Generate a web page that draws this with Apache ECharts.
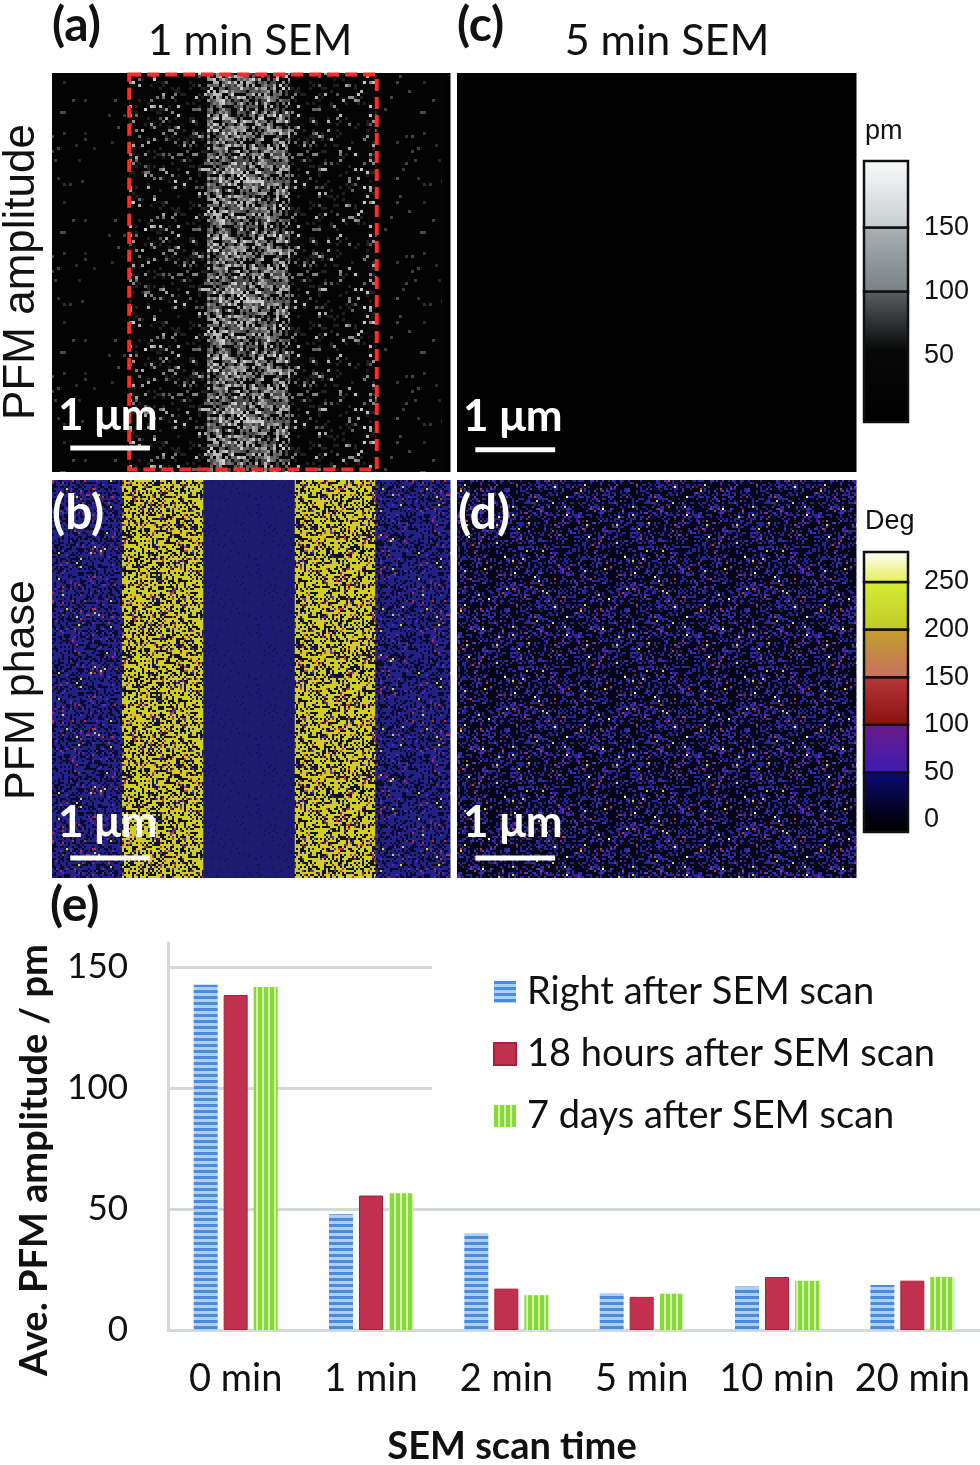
<!doctype html>
<html lang="en">
<head>
<meta charset="UTF-8"/>
<title>PFM amplitude / phase after SEM scan</title>
<script src="https://cdn.jsdelivr.net/npm/echarts@6.0.0/dist/echarts.min.js"></script>
<style>
  html, body { margin: 0; padding: 0; background: #fff; }
  #main { width: 980px; height: 1465px; }
</style>
</head>
<body>
<div id="main"></div>
<script type="text/javascript">
// ---- data (e) ----
var categories = ['0 min', '1 min', '2 min', '5 min', '10 min', '20 min'];
var seriesNames = ['Right after SEM scan', '18 hours after SEM scan', '7 days after SEM scan'];
var rightAfter = [142.7, 47.9, 40.0, 15.2, 18.0, 18.6];
var hours18 = [138.5, 55.6, 17.1, 13.7, 21.9, 20.4];
var days7 = [141.8, 56.5, 14.4, 15.0, 20.4, 21.9];
var yTicks = [0, 50, 100, 150];

// ---- maps (a)-(d), positions in um across a 5 um scan ----
var ampRegions1min = [[0, 0.97, 'ampFaint'], [0.97, 1.95, 'ampSparse'], [1.95, 2.99, 'ampBright'],
                      [2.99, 4.08, 'ampSparse'], [4.08, 4.9, 'ampFaint'], [4.9, 5, 'ampDark']];
var ampRegions5min = [[0, 5, 'ampDark']];
var phaseRegions1min = [[0, 0.88, 'phaseBlue'], [0.88, 1.9, 'phaseYellow'], [1.9, 3.05, 'phaseFlat'],
                        [3.05, 4.06, 'phaseYellow'], [4.06, 5, 'phaseBlue']];
var phaseRegions5min = [[0, 5, 'phaseNoise']];
var scannedBox = [[0.97, 4.08]];
var scaleBar = [[0.23, 1.23]];   // 1 um

// ---- colour bars ----
var ampBreaks = [-2, 100, 150, 202];
var ampTicks = [50, 100, 150];
var phaseBreaks = [-12.6, 50, 100, 150, 200, 250, 281.5];
var phaseTicks = [0, 50, 100, 150, 200, 250];

var ampColors = [[[0, '#5b6165'], [0.45, '#080808'], [1, '#000']],
                 [[0, '#aab2b5'], [1, '#788083']],
                 [[0, '#fbfbfb'], [1, '#c5cdd0']]];
var phaseColors = [[[0, '#0c0c78'], [0.7, '#02021a'], [1, '#000']],
                   [[0, '#6c1a88'], [1, '#3a1cb2']],
                   [[0, '#b83838'], [1, '#8a1010']],
                   [[0, '#c0a028'], [1, '#c87060']],
                   [[0, '#d6ee32'], [1, '#c0c828']],
                   [[0, '#ffffff'], [1, '#e6ee52']]];

// texture tiles (decoration only)
function hash(n) { var s = Math.sin(n * 91.345 + 17.17) * 43758.5453; return s - Math.floor(s); }
function makeTexture(size, cell, base, pick, seed) {
  var c = document.createElement('canvas');
  c.width = c.height = size;
  var ctx = c.getContext('2d');
  ctx.fillStyle = base; ctx.fillRect(0, 0, size, size);
  var k = seed || 0;
  for (var y = 0; y < size; y += cell) {
    for (var x = 0; x < size; x += cell) {
      var col = pick(hash(k), hash(k + 0.37)); k++;
      if (col) { ctx.fillStyle = col; ctx.fillRect(x, y, cell, cell); }
    }
  }
  return c;
}
function gray(g) { g = Math.round(g); return 'rgb(' + g + ',' + g + ',' + g + ')'; }
var tex = {
  ampDark: makeTexture(8, 8, '#020202', function () { return null; }),
  ampFaint: makeTexture(120, 3, '#030303', function (r, s) { return r < 0.025 ? gray(35 + 45 * s) : null; }, 11),
  ampSparse: makeTexture(120, 3, '#050505', function (r, s) {
    if (r < 0.09) return gray(80 + 120 * s);
    if (r < 0.2) return '#202020';
    return null; }, 101),
  ampBright: makeTexture(120, 3, '#161616', function (r, s) {
    if (r < 0.32) return '#080808';
    if (r < 0.7) return gray(60 + 50 * s);
    return gray(120 + 95 * s); }, 501),
  phaseYellow: makeTexture(120, 2, '#d0d01c', function (r) {
    if (r < 0.34) return '#121226';
    if (r < 0.38) return '#c84030';
    if (r < 0.41) return '#7030a0';
    if (r < 0.43) return '#2a2a90';
    return null; }, 901),
  phaseBlue: makeTexture(120, 2, '#22228a', function (r) {
    if (r < 0.36) return '#0a0a2a';
    if (r < 0.40) return '#5a2aa8';
    if (r < 0.415) return '#b83040';
    if (r < 0.422) return '#d8d830';
    return null; }, 1301),
  phaseFlat: makeTexture(60, 2, '#1b1b72', function (r) { return r < 0.06 ? '#141458' : null; }, 1701),
  phaseNoise: makeTexture(120, 2, '#060614', function (r) {
    if (r < 0.22) return '#24249a';
    if (r < 0.29) return '#4a2ab0';
    if (r < 0.31) return '#7a30a0';
    if (r < 0.32) return '#c04040';
    if (r < 0.327) return '#d8d840';
    if (r < 0.331) return '#ffffff';
    return null; }, 2101)
};

// bar patterns
function stripe(w, h, a, b, horizontal, n) {
  var c = document.createElement('canvas'); c.width = w; c.height = h;
  var ctx = c.getContext('2d');
  ctx.fillStyle = b; ctx.fillRect(0, 0, w, h);
  ctx.fillStyle = a;
  if (horizontal) ctx.fillRect(0, 0, w, n); else ctx.fillRect(0, 0, n, h);
  return c;
}
var bluePattern = { image: stripe(6, 6, '#4a8be0', '#abd0f4', true, 3), repeat: 'repeat' };
var greenPattern = { image: stripe(6, 6, '#86da36', '#d6f3b2', false, 4), repeat: 'repeat' };

var myChart = echarts.init(document.getElementById('main'), null, { renderer: 'canvas' });

function regionSeries(idx, regions) {
  return {
    type: 'custom', xAxisIndex: idx, yAxisIndex: idx, z: 1, silent: true,
    data: regions.map(function (r) { return [r[0], r[1]]; }),
    renderItem: function (params, api) {
      var p0 = api.coord([api.value(0), 5]);
      var p1 = api.coord([api.value(1), 0]);
      return { type: 'rect', shape: { x: p0[0], y: p0[1], width: p1[0] - p0[0] + 0.5, height: p1[1] - p0[1] },
               style: { fill: { image: tex[regions[params.dataIndex][2]], repeat: 'repeat' } } };
    }
  };
}
function scaleSeries(idx, barY, textY) {
  return {
    type: 'custom', xAxisIndex: idx, yAxisIndex: idx, z: 5, silent: true,
    data: scaleBar,
    renderItem: function (params, api) {
      var a = api.coord([api.value(0), barY]);
      var b = api.coord([api.value(1), barY]);
      var t = api.coord([0.075, textY]);
      return { type: 'group', children: [
        { type: 'line', shape: { x1: a[0], y1: a[1], x2: b[0], y2: b[1] }, style: { stroke: '#fff', lineWidth: 5 } },
        { type: 'text', style: { x: t[0], y: t[1], text: '1 \u03bcm', fill: '#fff', font: 'bold 44px Lato',
          textAlign: 'left', textVerticalAlign: 'middle' } }
      ] };
    }
  };
}
function colorbarSeries(idx, breaks, colors) {
  var segs = [];
  for (var i = 0; i < breaks.length - 1; i++) segs.push([breaks[i], breaks[i + 1]]);
  return {
    type: 'custom', xAxisIndex: idx, yAxisIndex: idx, z: 2, silent: true,
    data: segs,
    renderItem: function (params, api) {
      var top = api.coord([0, api.value(1)]);
      var bot = api.coord([1, api.value(0)]);
      var st = colors[params.dataIndex].map(function (c) { return { offset: c[0], color: c[1] }; });
      return { type: 'rect', shape: { x: top[0], y: top[1], width: bot[0] - top[0], height: bot[1] - top[1] },
               style: { fill: new echarts.graphic.LinearGradient(0, 0, 0, 1, st), stroke: '#111', lineWidth: 2.5 } };
    }
  };
}

var hiddenX = function (g, max) { return { gridIndex: g, type: 'value', min: 0, max: max, show: false }; };
var hiddenY = function (g, max) { return { gridIndex: g, type: 'value', min: 0, max: max, show: false }; };
var cbLabel = { fontSize: 27, fontFamily: 'Liberation Sans', color: '#111', margin: 16 };

option = {
  backgroundColor: '#fff',
  animation: false,
  textStyle: { fontFamily: 'Lato' },
  grid: [
    { left: 52, top: 73, width: 398, height: 399 },
    { left: 457, top: 73, width: 399, height: 399 },
    { left: 52, top: 480, width: 398, height: 398 },
    { left: 457, top: 480, width: 399, height: 398 },
    { left: 864, top: 161, width: 44, height: 261 },
    { left: 864, top: 552, width: 44, height: 280 },
    { left: 168, top: 943, width: 818, height: 387 }
  ],
  xAxis: [
    hiddenX(0, 5), hiddenX(1, 5), hiddenX(2, 5), hiddenX(3, 5), hiddenX(4, 1), hiddenX(5, 1),
    { gridIndex: 6, type: 'category', data: categories,
      axisLine: { lineStyle: { color: '#d3d8db', width: 3 } },
      axisTick: { show: false },
      axisLabel: { interval: 0, hideOverlap: false, fontSize: 38, fontFamily: 'Lato', color: '#111', margin: 30 } }
  ],
  yAxis: [
    hiddenY(0, 5), hiddenY(1, 5), hiddenY(2, 5), hiddenY(3, 5),
    { gridIndex: 4, type: 'value', min: ampBreaks[0], max: ampBreaks[ampBreaks.length - 1], position: 'right',
      axisLine: { show: false }, axisTick: { show: false }, splitLine: { show: false },
      axisLabel: Object.assign({ customValues: ampTicks }, cbLabel) },
    { gridIndex: 5, type: 'value', min: phaseBreaks[0], max: phaseBreaks[phaseBreaks.length - 1], position: 'right',
      axisLine: { show: false }, axisTick: { show: false }, splitLine: { show: false },
      axisLabel: Object.assign({ customValues: phaseTicks }, cbLabel) },
    { gridIndex: 6, type: 'value', min: 0, max: 160, interval: 50,
      axisLine: { show: true, lineStyle: { color: '#d3d8db', width: 3 } },
      axisTick: { show: false },
      axisLabel: { fontSize: 35, fontFamily: 'Lato', color: '#111', margin: 40, showMaxLabel: false,
        formatter: function (v) { return yTicks.indexOf(v) >= 0 ? String(v) : ''; } },
      splitLine: { showMaxLine: false, lineStyle: { color: '#d3d8db', width: 3 } } }
  ],
  legend: {
    data: seriesNames, orient: 'vertical', left: 432, top: 958,
    padding: [14, 80, 14, 61], backgroundColor: '#fff',
    itemWidth: 22, itemHeight: 22, itemGap: 22, icon: 'rect',
    textStyle: { fontSize: 38, fontFamily: 'Lato', color: '#111', lineHeight: 40, padding: [0, 0, 0, 6] }
  },
  series: [
    regionSeries(0, ampRegions1min),
    regionSeries(1, ampRegions5min),
    regionSeries(2, phaseRegions1min),
    regionSeries(3, phaseRegions5min),
    {
      type: 'custom', xAxisIndex: 0, yAxisIndex: 0, z: 4, silent: true, data: scannedBox,
      renderItem: function (params, api) {
        var p0 = api.coord([api.value(0), 4.98]);
        var p1 = api.coord([api.value(1), 0.03]);
        return { type: 'rect', shape: { x: p0[0], y: p0[1], width: p1[0] - p0[0], height: p1[1] - p0[1] },
                 style: { fill: null, stroke: '#ff2a2a', lineWidth: 4, lineDash: [12, 6] } };
      }
    },
    scaleSeries(0, 0.30, 0.71), scaleSeries(1, 0.28, 0.69),
    scaleSeries(2, 0.25, 0.69), scaleSeries(3, 0.25, 0.69),
    colorbarSeries(4, ampBreaks, ampColors),
    colorbarSeries(5, phaseBreaks, phaseColors),
    { name: seriesNames[0], type: 'bar', xAxisIndex: 6, yAxisIndex: 6, data: rightAfter,
      barWidth: 24, barGap: '25%', itemStyle: { color: bluePattern } },
    { name: seriesNames[1], type: 'bar', xAxisIndex: 6, yAxisIndex: 6, data: hours18,
      barWidth: 24, barGap: '25%', itemStyle: { color: '#c1304c', borderColor: '#a3233d', borderWidth: 1 } },
    { name: seriesNames[2], type: 'bar', xAxisIndex: 6, yAxisIndex: 6, data: days7,
      barWidth: 24, barGap: '25%', itemStyle: { color: greenPattern } }
  ],
  graphic: [
    { type: 'text', x: 52, y: 26, z: 100, style: { text: '(a)', font: 'bold 48px Lato', fill: '#111', textVerticalAlign: 'middle' } },
    { type: 'text', x: 250, y: 41, z: 100, style: { text: '1 min SEM', font: '43px Lato', fill: '#111', textAlign: 'center', textVerticalAlign: 'middle' } },
    { type: 'text', x: 457, y: 26, z: 100, style: { text: '(c)', font: 'bold 48px Lato', fill: '#111', textVerticalAlign: 'middle' } },
    { type: 'text', x: 667, y: 41, z: 100, style: { text: '5 min SEM', font: '43px Lato', fill: '#111', textAlign: 'center', textVerticalAlign: 'middle' } },
    { type: 'text', x: 22, y: 272, rotation: Math.PI / 2, z: 100, style: { text: 'PFM amplitude', font: '44px "Liberation Sans"', fill: '#111', textAlign: 'center', textVerticalAlign: 'middle' } },
    { type: 'text', x: 22, y: 690, rotation: Math.PI / 2, z: 100, style: { text: 'PFM phase', font: '43px "Liberation Sans"', fill: '#111', textAlign: 'center', textVerticalAlign: 'middle' } },
    { type: 'text', left: 865, top: 118, z: 100, style: { text: 'pm', font: '27px "Liberation Sans"', fill: '#111' } },
    { type: 'text', left: 865, top: 508, z: 100, style: { text: 'Deg', font: '27px "Liberation Sans"', fill: '#111' } },
    { type: 'text', x: 52, y: 514, z: 100, style: { text: '(b)', font: 'bold 48px Lato', fill: '#fff', textVerticalAlign: 'middle' } },
    { type: 'text', x: 458, y: 514, z: 100, style: { text: '(d)', font: 'bold 48px Lato', fill: '#fff', textVerticalAlign: 'middle' } },
    { type: 'text', x: 50, y: 906, z: 100, style: { text: '(e)', font: 'bold 48px Lato', fill: '#111', textVerticalAlign: 'middle' } },
    { type: 'text', x: 35, y: 1160, rotation: Math.PI / 2, z: 100, style: { text: 'Ave. PFM amplitude / pm', font: 'bold 38px Lato', fill: '#111', textAlign: 'center', textVerticalAlign: 'middle' } },
    { type: 'text', x: 512, y: 1447, z: 100, style: { text: 'SEM scan time', font: 'bold 38px Lato', fill: '#111', textAlign: 'center', textVerticalAlign: 'middle' } }
  ]
};

myChart.setOption(option);
</script>
</body>
</html>
